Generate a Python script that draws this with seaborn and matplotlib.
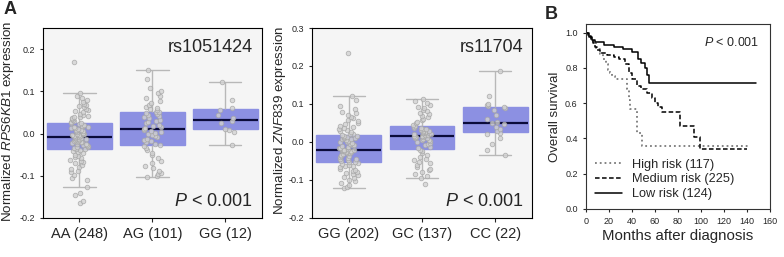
import numpy as np
import pandas as pd
import matplotlib
matplotlib.use("Agg")
import matplotlib.pyplot as plt
import seaborn as sns

# --- data ---
# panel A, left: RPS6KB1 expression by rs1051424 genotype
aa_vals = [-0.165, -0.16, -0.145, -0.14, -0.127, -0.11, -0.105, -0.098, -0.092, -0.088,
           -0.083, -0.079, -0.075, -0.071, -0.068, -0.065, -0.062, -0.059, -0.056, -0.053,
           -0.05, -0.047, -0.044, -0.041, -0.039,
           -0.037, -0.036, -0.034, -0.033, -0.031, -0.030, -0.028, -0.027, -0.025, -0.024,
           -0.022, -0.021, -0.020, -0.019, -0.018, -0.017, -0.016, -0.015, -0.014, -0.013,
           -0.012, -0.011, -0.010, -0.009, -0.009,
           -0.007, -0.006, -0.005, -0.004, -0.003, -0.002, -0.001, 0.0, 0.001, 0.002,
           0.004, 0.005, 0.006, 0.008, 0.009, 0.010, 0.012, 0.013, 0.015, 0.016,
           0.018, 0.019, 0.021, 0.022, 0.024,
           0.026, 0.028, 0.030, 0.032, 0.034, 0.036, 0.038, 0.040, 0.042, 0.044,
           0.047, 0.050, 0.053, 0.056, 0.059, 0.062, 0.065, 0.068, 0.071, 0.075,
           0.079, 0.083, 0.088, 0.095, 0.17]
ag_vals = [-0.103, -0.100, -0.097, -0.093, -0.088, -0.082, -0.076, -0.070, -0.064, -0.058,
           -0.052, -0.046, -0.040, -0.034, -0.029,
           -0.027, -0.024, -0.021, -0.018, -0.015, -0.012, -0.009, -0.006, -0.003, 0.0,
           0.002, 0.004, 0.006, 0.008, 0.010,
           0.012, 0.015, 0.018, 0.021, 0.024, 0.027, 0.030, 0.033, 0.036, 0.039,
           0.042, 0.044, 0.046, 0.048, 0.050,
           0.052, 0.055, 0.058, 0.060, 0.063, 0.068, 0.072, 0.078, 0.085, 0.090,
           0.095, 0.100, 0.108, 0.13, 0.15]
gg1_vals = [-0.027, 0.004, 0.008, 0.011, 0.025, 0.030, 0.036, 0.045, 0.056, 0.060, 0.080, 0.122]
labels_1 = ["AA (248)", "AG (101)", "GG (12)"]

# panel A, right: ZNF839 expression by rs11704 genotype
gg2_vals = [-0.122, -0.118, -0.112, -0.108, -0.104, -0.100, -0.096, -0.092, -0.088, -0.085,
            -0.082, -0.079, -0.076, -0.073, -0.070, -0.067, -0.064, -0.062, -0.060, -0.058,
            -0.056, -0.054, -0.052,
            -0.050, -0.048, -0.046, -0.044, -0.042, -0.040, -0.038, -0.036, -0.034, -0.032,
            -0.030, -0.029, -0.028, -0.027, -0.026, -0.025, -0.024, -0.023, -0.022, -0.022,
            -0.021, -0.021,
            -0.019, -0.017, -0.015, -0.013, -0.011, -0.009, -0.007, -0.005, -0.003, -0.001,
            0.001, 0.003, 0.005, 0.007, 0.009, 0.010, 0.011, 0.012, 0.014, 0.015,
            0.017, 0.018,
            0.020, 0.022, 0.025, 0.028, 0.031, 0.034, 0.037, 0.040, 0.043, 0.046,
            0.050, 0.054, 0.058, 0.062, 0.066, 0.070, 0.075, 0.080, 0.088, 0.096,
            0.110, 0.120, 0.235]
gc_vals = [-0.110, -0.095, -0.090, -0.085, -0.080, -0.075, -0.070, -0.065, -0.060, -0.056,
           -0.052, -0.048, -0.044, -0.040, -0.035, -0.030, -0.025, -0.020,
           -0.016, -0.012, -0.009, -0.006, -0.003, 0.0, 0.002, 0.004, 0.006, 0.008,
           0.010, 0.011, 0.012, 0.013, 0.014, 0.015, 0.015,
           0.017, 0.018, 0.019, 0.020, 0.022, 0.023, 0.024, 0.026, 0.027, 0.028,
           0.030, 0.031, 0.033, 0.034, 0.036, 0.038, 0.040,
           0.041, 0.045, 0.049, 0.053, 0.057, 0.061, 0.065, 0.069, 0.073, 0.077,
           0.081, 0.085, 0.089, 0.093, 0.097, 0.102, 0.107, 0.112]
cc_vals = [-0.035, -0.020, -0.005, 0.010, 0.020, 0.024, 0.028, 0.035, 0.040, 0.046,
           0.050, 0.052, 0.060, 0.070, 0.085, 0.090, 0.093, 0.095, 0.098, 0.100,
           0.120, 0.188]
labels_2 = ["GG (202)", "GC (137)", "CC (22)"]

# panel B: Kaplan-Meier curves (months, survival)
high_t = [0, 3, 6, 9, 12, 15, 17, 19, 21, 23, 25, 36, 37, 38.5, 44.5, 48.7, 141]
high_s = [1.0, 0.97, 0.94, 0.91, 0.88, 0.85, 0.82, 0.79, 0.77, 0.755, 0.74, 0.68, 0.62,
          0.565, 0.43, 0.356, 0.356]
medium_t = [0, 2, 4, 6, 8, 10, 12, 18, 24, 29, 34, 37, 40, 44, 48, 53, 57, 60, 63, 66,
            82, 94, 99.5, 140]
medium_s = [1.0, 0.98, 0.96, 0.94, 0.92, 0.90, 0.886, 0.875, 0.865, 0.85, 0.82, 0.77,
            0.735, 0.70, 0.68, 0.66, 0.63, 0.60, 0.58, 0.55, 0.47, 0.41, 0.343, 0.343]
low_t = [0, 3, 5, 8, 16, 24, 32, 40, 45, 48, 51, 53, 55, 148]
low_s = [1.0, 0.975, 0.96, 0.945, 0.93, 0.92, 0.91, 0.89, 0.85, 0.83, 0.80, 0.76, 0.716, 0.716]
km_labels = ["High risk (117)", "Medium risk (225)", "Low risk (124)"]

# --- style ---
sns.set_style("ticks")
plt.rcParams["font.family"] = ["Liberation Sans", "DejaVu Sans"]
plt.rcParams["mathtext.fontset"] = "custom"
plt.rcParams["mathtext.rm"] = "Liberation Sans"
plt.rcParams["mathtext.it"] = "Liberation Sans:italic"
np.random.seed(3)

box_col = "#8c90e2"
fig = plt.figure(figsize=(7.84, 2.57), dpi=100)
ax1 = fig.add_axes([0.0548, 0.152, 0.2793, 0.739])
ax2 = fig.add_axes([0.398, 0.152, 0.2806, 0.739])
ax3 = fig.add_axes([0.7474, 0.187, 0.2347, 0.7198])


def expr_panel(ax, groups, labels, ylab, rs, ylim, yticks, lab_xy):
    df = pd.DataFrame({
        "geno": sum([[lab] * len(g) for lab, g in zip(labels, groups)], []),
        "expr": sum([list(g) for g in groups], []),
    })
    ax.set_facecolor("#f5f5f5")
    sns.boxplot(data=df, x="geno", y="expr", order=labels, ax=ax, color=box_col,
                saturation=1, width=0.88, showfliers=False, linewidth=1,
                linecolor="#b8b8b8", boxprops=dict(edgecolor=box_col),
                medianprops=dict(color="#0b0b3a", linewidth=1.6))
    sns.stripplot(data=df, x="geno", y="expr", order=labels, ax=ax, jitter=0.13,
                  size=3.3, color="#d2d2d2", edgecolor="#a6a6a6", linewidth=0.6, alpha=0.8)
    ax.set_ylim(*ylim)
    ax.set_yticks(yticks)
    ax.set_yticklabels([f"{v:.1f}" for v in yticks], fontsize=6.5)
    ax.tick_params(axis="x", labelsize=10.5, length=3)
    ax.tick_params(axis="y", length=2.5)
    ax.set_xlabel("")
    ax.set_ylabel(ylab, fontsize=9.6)
    ax.yaxis.set_label_coords(*lab_xy)
    for s in ax.spines.values():
        s.set_color("black")
        s.set_linewidth(0.8)
    ax.text(0.96, 0.895, rs, transform=ax.transAxes, ha="right", va="center", fontsize=13)
    ax.text(0.96, 0.085, "$P$ < 0.001", transform=ax.transAxes, ha="right", va="center",
            fontsize=13)


expr_panel(ax1, [aa_vals, ag_vals, gg1_vals], labels_1,
           r"Normalized $\mathit{RPS6KB1}$ expression", "rs1051424",
           (-0.2, 0.25), [-0.2, -0.1, 0.0, 0.1, 0.2], (-0.125, 0.51))
expr_panel(ax2, [gg2_vals, gc_vals, cc_vals], labels_2,
           r"Normalized $\mathit{ZNF}$839 expression", "rs11704",
           (-0.2, 0.3), [-0.2, -0.1, 0.0, 0.1, 0.2, 0.3], (-0.107, 0.515))

# panel B
for t, s, lab, ls, col, lw in [(high_t, high_s, km_labels[0], ":", "#7a7a7a", 1.3),
                               (medium_t, medium_s, km_labels[1], (0, (3, 1.6)), "black", 1.1),
                               (low_t, low_s, km_labels[2], "-", "black", 1.1)]:
    sns.lineplot(x=t, y=s, ax=ax3, drawstyle="steps-post", linestyle=ls, color=col,
                 linewidth=lw, label=lab, estimator=None, sort=False)
ax3.set_xlim(0, 160)
ax3.set_ylim(0, 1.05)
ax3.set_xticks(range(0, 161, 20))
ax3.set_yticks([0, 0.2, 0.4, 0.6, 0.8, 1.0])
ax3.set_yticklabels(["0.0", "0.2", "0.4", "0.6", "0.8", "1.0"])
ax3.tick_params(labelsize=6.5, length=2.5)
ax3.set_xlabel("Months after diagnosis", fontsize=10.8, labelpad=2)
ax3.set_ylabel("Overall survival", fontsize=9.5, labelpad=3)
for s in ax3.spines.values():
    s.set_color("#333333")
    s.set_linewidth(0.8)
ax3.text(0.94, 0.9, "$P$ < 0.001", transform=ax3.transAxes, ha="right", va="center",
         fontsize=9)
ax3.legend(loc="lower left", frameon=False, fontsize=9.2, handlelength=2.1,
           labelspacing=0.2, borderaxespad=0.3, handletextpad=0.8)

fig.text(0.004, 0.995, "A", fontsize=13, fontweight="bold", va="top")
fig.text(0.695, 0.975, "B", fontsize=13, fontweight="bold", va="top")

fig.savefig("out.png", dpi=100)
